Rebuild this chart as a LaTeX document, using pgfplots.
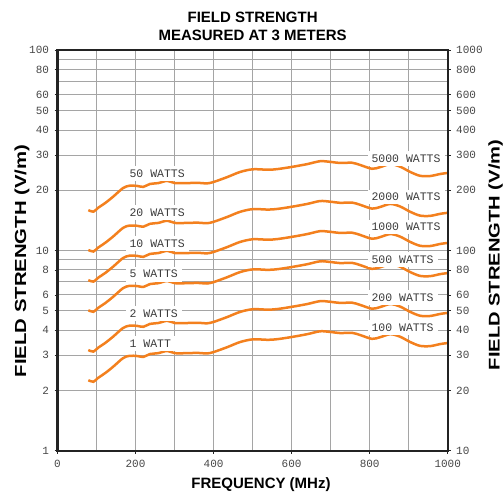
\documentclass[border=0pt]{standalone}
\usepackage{fontspec}
\setmainfont{Liberation Sans}
\newfontfamily\monofont{Liberation Mono}
\usepackage{graphicx}
\usepackage{pgfplots}
\usepackage{pgfplotstable}
\pgfplotsset{compat=1.18}

\definecolor{curve}{RGB}{243,128,30}
\definecolor{gridc}{RGB}{165,165,165}
\definecolor{ticktxt}{RGB}{70,70,70}
\definecolor{frame}{RGB}{35,35,35}
\definecolor{lbl}{RGB}{60,60,60}

% Field strength (V/m) at 3 m versus frequency (MHz), one table per transmitter power
\pgfplotstableread{
f v
79 2.25
92 2.21
104 2.31
122 2.44
142 2.62
168 2.90
185 2.98
205 2.97
220 2.94
237 3.04
258 3.07
281 3.15
301 3.07
330 3.07
360 3.08
383 3.06
400 3.11
435 3.29
468 3.49
501 3.60
540 3.58
565 3.61
601 3.70
640 3.82
673 3.95
699 3.92
724 3.87
755 3.88
776 3.78
806 3.62
827 3.69
853 3.82
878 3.71
904 3.49
929 3.34
955 3.33
981 3.41
1000 3.45
}\wattA

\pgfplotstableread{
f v
79 3.182
92 3.125
104 3.267
122 3.451
142 3.705
168 4.101
185 4.214
205 4.200
220 4.158
237 4.299
258 4.342
281 4.455
301 4.342
330 4.342
360 4.356
383 4.328
400 4.398
435 4.653
468 4.936
501 5.091
540 5.063
565 5.105
601 5.233
640 5.402
673 5.586
699 5.544
724 5.473
755 5.487
776 5.346
806 5.119
827 5.218
853 5.402
878 5.247
904 4.936
929 4.723
955 4.709
981 4.822
1000 4.879
}\wattB

\pgfplotstableread{
f v
79 5.031
92 4.942
104 5.165
122 5.456
142 5.858
168 6.485
185 6.663
205 6.641
220 6.574
237 6.798
258 6.865
281 7.044
301 6.865
330 6.865
360 6.887
383 6.842
400 6.954
435 7.357
468 7.804
501 8.050
540 8.005
565 8.072
601 8.273
640 8.542
673 8.832
699 8.765
724 8.654
755 8.676
776 8.452
806 8.095
827 8.251
853 8.542
878 8.296
904 7.804
929 7.468
955 7.446
981 7.625
1000 7.714
}\wattC

\pgfplotstableread{
f v
79 7.115
92 6.989
104 7.305
122 7.716
142 8.285
168 9.171
185 9.424
205 9.392
220 9.297
237 9.613
258 9.708
281 9.961
301 9.708
330 9.708
360 9.740
383 9.677
400 9.835
435 10.404
468 11.036
501 11.384
540 11.321
565 11.416
601 11.700
640 12.080
673 12.491
699 12.396
724 12.238
755 12.270
776 11.953
806 11.447
827 11.669
853 12.080
878 11.732
904 11.036
929 10.562
955 10.530
981 10.783
1000 10.910
}\wattD

\pgfplotstableread{
f v
79 10.062
92 9.883
104 10.331
122 10.912
142 11.717
168 12.969
185 13.327
205 13.282
220 13.148
237 13.595
258 13.729
281 14.087
301 13.729
330 13.729
360 13.774
383 13.685
400 13.908
435 14.713
468 15.608
501 16.100
540 16.010
565 16.144
601 16.547
640 17.084
673 17.665
699 17.531
724 17.307
755 17.352
776 16.905
806 16.189
827 16.502
853 17.084
878 16.592
904 15.608
929 14.937
955 14.892
981 15.250
1000 15.429
}\wattE

\pgfplotstableread{
f v
79 15.910
92 15.627
104 16.334
122 17.253
142 18.526
168 20.506
185 21.072
205 21.001
220 20.789
237 21.496
258 21.708
281 22.274
301 21.708
330 21.708
360 21.779
383 21.637
400 21.991
435 23.264
468 24.678
501 25.456
540 25.315
565 25.527
601 26.163
640 27.012
673 27.931
699 27.719
724 27.365
755 27.436
776 26.729
806 25.598
827 26.092
853 27.012
878 26.234
904 24.678
929 23.617
955 23.547
981 24.113
1000 24.395
}\wattF

\pgfplotsset{
  fieldaxis/.style={
    at={(57.5pt,40.3pt)}, anchor=south west,
    scale only axis, width=390.2pt, height=400.4pt,
    xmin=0, xmax=1000,
    tick align=outside, major tick length=3pt, minor tick length=0pt,
    tick style={frame, line width=0.6pt},
    axis line style={frame, line width=2.2pt},
    ticklabel style={font=\monofont\fontsize{11}{11}\selectfont, text=ticktxt},
    /pgf/number format/assume math mode=true,
  },
}
\tikzset{
  wattlabel/.style={fill=white, inner xsep=4pt, inner ysep=3.5pt, anchor=west,
    text=lbl, font=\monofont\fontsize{11.5}{11.5}\selectfont},
}

\begin{document}
\begin{tikzpicture}[x=1pt,y=1pt]
\useasboundingbox (0,0) rectangle (504,491);

% left scale: 1 to 100 V/m
\begin{axis}[ymode=log, fieldaxis,
  ymin=1, ymax=100,
  xtick={0,200,...,1000}, minor xtick={100,300,...,900},
  xticklabels={0,200,400,600,800,1000},
  xticklabel style={yshift=-3pt},
  ytick={1,2,3,4,5,6,8,10,20,30,40,50,60,80,100},
  yticklabels={1,2,3,4,5,6,8,10,20,30,40,50,60,80,100},
  minor ytick={7,9,70,90},
  ytick pos=left, xtick pos=bottom,
  yticklabel style={xshift=-2pt},
  grid=both,
  major grid style={gridc, line width=0.9pt},
  minor grid style={gridc, line width=0.9pt},
]
\addplot[curve, line width=2.5pt, smooth] table[x=f, y=v] {\wattA};
\addplot[curve, line width=2.5pt, smooth] table[x=f, y=v] {\wattB};
\addplot[curve, line width=2.5pt, smooth] table[x=f, y=v] {\wattC};
\addplot[curve, line width=2.5pt, smooth] table[x=f, y=v] {\wattD};
\addplot[curve, line width=2.5pt, smooth] table[x=f, y=v] {\wattE};
\addplot[curve, line width=2.5pt, smooth] table[x=f, y=v] {\wattF};

\node[wattlabel] at (axis cs:174,24.3) {50 WATTS};
\node[wattlabel] at (axis cs:174,15.5) {20 WATTS};
\node[wattlabel] at (axis cs:174,10.8) {10 WATTS};
\node[wattlabel] at (axis cs:174,7.62) {5 WATTS};
\node[wattlabel] at (axis cs:174,4.85) {2 WATTS};
\node[wattlabel] at (axis cs:174,3.44) {1 WATT};

\node[wattlabel] at (axis cs:794,28.8) {5000 WATTS};
\node[wattlabel] at (axis cs:794,18.5) {2000 WATTS};
\node[wattlabel] at (axis cs:794,13.1) {1000 WATTS};
\node[wattlabel] at (axis cs:794,9.02) {500 WATTS};
\node[wattlabel] at (axis cs:794,5.83) {200 WATTS};
\node[wattlabel] at (axis cs:794,4.13) {100 WATTS};
\end{axis}

% right scale: 10 to 1000 V/m
\begin{axis}[ymode=log, fieldaxis,
  ymin=10, ymax=1000,
  axis x line=none, axis y line*=right,
  ytick={10,20,30,40,50,60,80,100,200,300,400,500,600,800,1000},
  yticklabels={10,20,30,40,50,60,80,100,200,300,400,500,600,800,1000},
  minor ytick={},
  yticklabel style={xshift=2pt},
]
\end{axis}

% titles and axis labels
\node[font=\bfseries\fontsize{15}{15}\selectfont] at (252.6,474) {FIELD STRENGTH};
\node[font=\bfseries\fontsize{15}{15}\selectfont] at (252.6,455.5) {MEASURED AT 3 METERS};
\node[font=\bfseries\fontsize{15}{15}\selectfont, anchor=base] at (261,2.5) {FREQUENCY (MHz)};
\node[font=\bfseries\fontsize{16}{16}\selectfont, anchor=base, rotate=90]
  at (26,230) {\scalebox{1.27}[1]{FIELD STRENGTH (V/m)}};
\node[font=\bfseries\fontsize{15.5}{15.5}\selectfont, anchor=base, rotate=90]
  at (499.5,236) {\scalebox{1.3}[1]{FIELD STRENGTH (V/m)}};
\end{tikzpicture}
\end{document}
